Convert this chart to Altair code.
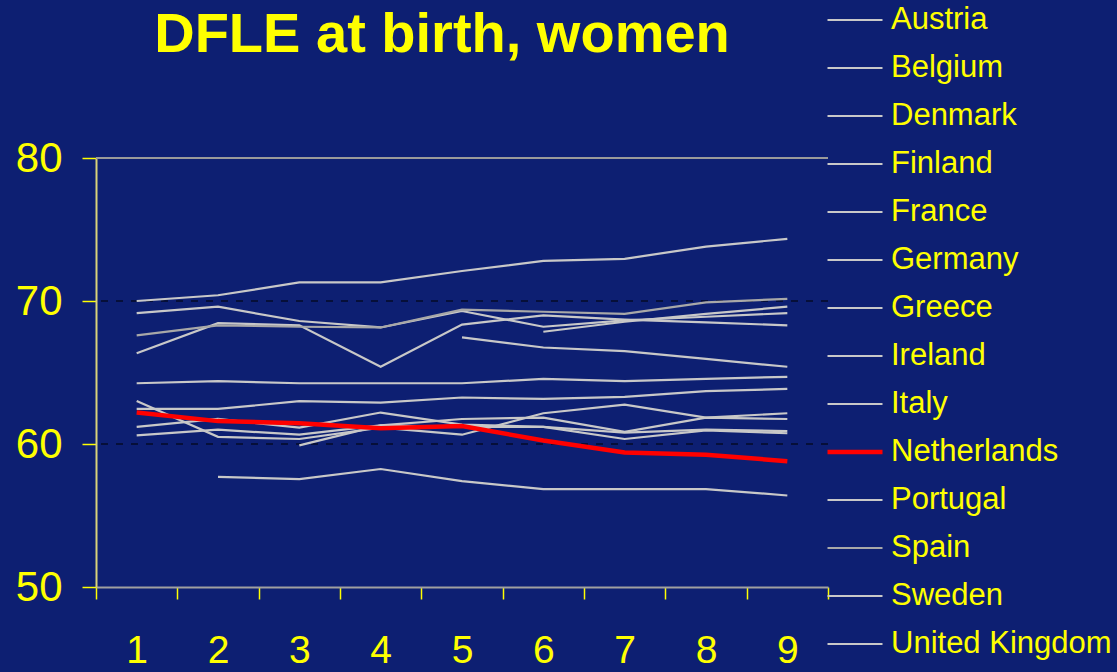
import altair as alt
import pandas as pd

# Waves (x categories)
waves = [1, 2, 3, 4, 5, 6, 7, 8, 9]

# Disability-free life expectancy at birth, women, per country and wave
# (None = no estimate for that wave)
austria = [None, 57.7, 57.55, 58.25, 57.4, 56.85, 56.85, 56.85, 56.4]
belgium = [66.35, 68.45, 68.3, 65.4, 68.35, 69.0, 68.7, 68.5, 68.3]
denmark = [61.2, 61.75, 61.15, 62.2, 61.35, 61.2, 60.8, 61.0, 60.9]
finland = [None, None, 59.9, 61.3, 61.2, 61.2, 60.35, 60.95, 60.75]
france = [64.25, 64.4, 64.25, 64.25, 64.25, 64.55, 64.4, 64.55, 64.7]
germany = [None, None, None, None, 67.45, 66.75, 66.5, 65.95, 65.4]
greece = [69.15, 69.6, 68.6, 68.15, 69.3, 68.2, 68.65, 68.9, 69.15]
ireland = [62.45, 62.45, 63.0, 62.9, 63.25, 63.15, 63.3, 63.7, 63.85]
italy = [70.0, 70.4, 71.3, 71.3, 72.1, 72.8, 72.95, 73.8, 74.35]
netherlands = [62.2, 61.6, 61.45, 61.1, 61.25, 60.25, 59.4, 59.25, 58.8]
portugal = [63.0, 60.5, 60.35, 61.15, 60.65, 62.15, 62.75, 61.85, 62.15]
spain = [67.6, 68.3, 68.2, 68.15, 69.4, 69.25, 69.1, 69.9, 70.15]
sweden = [None, None, None, None, None, 67.85, 68.55, 69.1, 69.6]
united_kingdom = [60.6, 61.0, 60.65, 61.3, 61.75, 61.85, 60.85, 61.85, 61.75]

countries = ["Austria", "Belgium", "Denmark", "Finland", "France", "Germany",
             "Greece", "Ireland", "Italy", "Netherlands", "Portugal", "Spain",
             "Sweden", "United Kingdom"]
series = [austria, belgium, denmark, finland, france, germany, greece, ireland,
          italy, netherlands, portugal, spain, sweden, united_kingdom]

line_colors = ["#C8C8C8"] * len(countries)
line_colors[countries.index("Netherlands")] = "#FF0000"
line_colors[countries.index("Spain")] = "#A8A8A8"
line_widths = [2.2] * len(countries)
line_widths[countries.index("Netherlands")] = 4.5

grid_values = [60, 70]
top_value = [80]

rows = []
for name, vals in zip(countries, series):
    for w, v in zip(waves, vals):
        if v is not None:
            rows.append({"country": name, "wave": w, "dfle": v})
df = pd.DataFrame(rows)

BG = "#0D1F72"
YELLOW = "#FFFF00"
FONT = "Liberation Sans"

x_enc = alt.X(
    "wave:O",
    scale=alt.Scale(domain=waves, paddingInner=0, paddingOuter=0),
    axis=alt.Axis(
        title=None, labelAngle=0, labelFont=FONT, labelFontSize=39,
        labelColor=YELLOW, labelPadding=32, tickBand="extent",
        tickColor=YELLOW, tickSize=12, tickWidth=1.5,
        domainColor="#A0A0A0", domainWidth=2, grid=False,
    ),
)
y_enc = alt.Y(
    "dfle:Q",
    scale=alt.Scale(domain=[50, 80], nice=False, zero=False),
    axis=alt.Axis(
        title=None, values=[50, 60, 70, 80], labelFont=FONT, labelFontSize=42,
        labelColor=YELLOW, labelPadding=20, tickColor=YELLOW, tickSize=14,
        tickWidth=1.5, domainColor="#D8D27A", domainWidth=2, grid=False,
    ),
)

color_enc = alt.Color(
    "country:N",
    scale=alt.Scale(type="ordinal", domain=countries, range=line_colors),
    title=None,
)
width_enc = alt.StrokeWidth(
    "country:N",
    scale=alt.Scale(type="ordinal", domain=countries, range=line_widths),
    title=None,
)

grid = alt.Chart(pd.DataFrame({"v": grid_values})).mark_rule(
    color="#000000", strokeDash=[7, 8], strokeWidth=1.2
).encode(y=alt.Y("v:Q", scale=alt.Scale(domain=[50, 80], nice=False)))

top_line = alt.Chart(pd.DataFrame({"v": top_value})).mark_rule(
    color="#9A9A9A", strokeWidth=2
).encode(y=alt.Y("v:Q", scale=alt.Scale(domain=[50, 80], nice=False)))

grey_lines = alt.Chart(df[df["country"] != "Netherlands"]).mark_line().encode(
    x=x_enc, y=y_enc, color=color_enc, strokeWidth=width_enc, detail="country:N"
)
red_line = alt.Chart(df[df["country"] == "Netherlands"]).mark_line().encode(
    x=x_enc, y=y_enc, color=color_enc, strokeWidth=width_enc
)

chart = alt.layer(grid, top_line, grey_lines, red_line).properties(
    width=732,
    height=429,
    title=alt.TitleParams(
        "DFLE at birth, women", font=FONT, fontSize=56, fontWeight="bold",
        color=YELLOW, anchor="middle", dx=-20, offset=0, dy=68,
    ),
    background=BG,
    padding={"left": 96, "top": 158, "right": 289, "bottom": 85},
    autosize=alt.AutoSizeParams(type="none"),
).configure_view(
    stroke=None, fill=BG
).configure_legend(
    orient="none", legendX=729, legendY=-162, padding=0,
    symbolType="stroke", symbolSize=3025,
    labelFont=FONT, labelFontSize=31, labelColor=YELLOW, labelLimit=400,
    labelOffset=6, clipHeight=48, rowPadding=0, titlePadding=0,
)

chart.save("out.html", embed_options={"renderer": "svg", "actions": False})
